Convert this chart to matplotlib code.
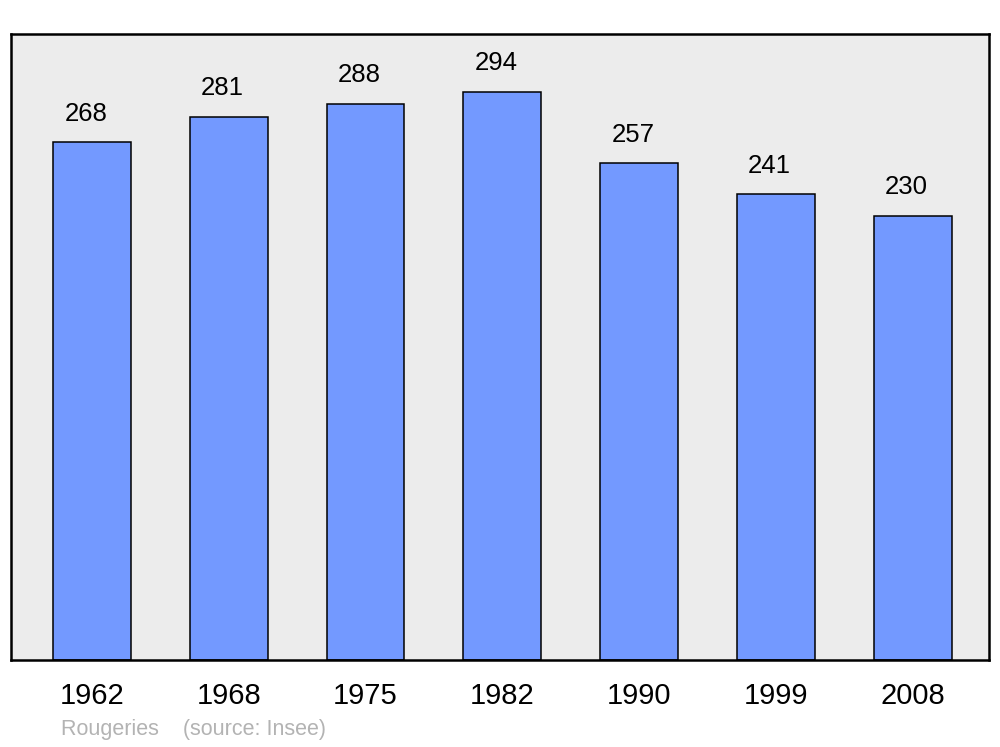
import matplotlib.pyplot as plt

# population par recensement
years = ['1962', '1968', '1975', '1982', '1990', '1999', '2008']
population = [268, 281, 288, 294, 257, 241, 230]

plt.rcParams['font.family'] = ['Liberation Sans', 'DejaVu Sans']

fig = plt.figure(figsize=(10, 7.47), dpi=100)
ax = fig.add_axes([0.011, 0.1165, 0.978, 0.838])
ax.set_facecolor('#ececec')

x = range(len(years))
bars = ax.bar(x, population, width=0.57, color='#7399ff',
              edgecolor='black', linewidth=1.1, zorder=2)

for b, v in zip(bars, population):
    ax.annotate(str(v), (b.get_x() + b.get_width() / 2, b.get_height()),
                xytext=(-4.5, 12), textcoords='offset points',
                ha='center', va='bottom', fontsize=18.5)

ax.set_xlim(-0.592, 6.559)
ax.set_ylim(0, 324)
ax.set_xticks(list(x))
ax.set_xticklabels(years, fontsize=21)
ax.set_yticks([])
ax.tick_params(axis='x', length=0, pad=16)
for s in ax.spines.values():
    s.set_linewidth(1.8)

fig.text(0.061, 0.009, 'Rougeries    (source: Insee)', color='#b3b3b3',
         fontsize=15.5, ha='left', va='bottom')

fig.savefig('out.png', dpi=100)
